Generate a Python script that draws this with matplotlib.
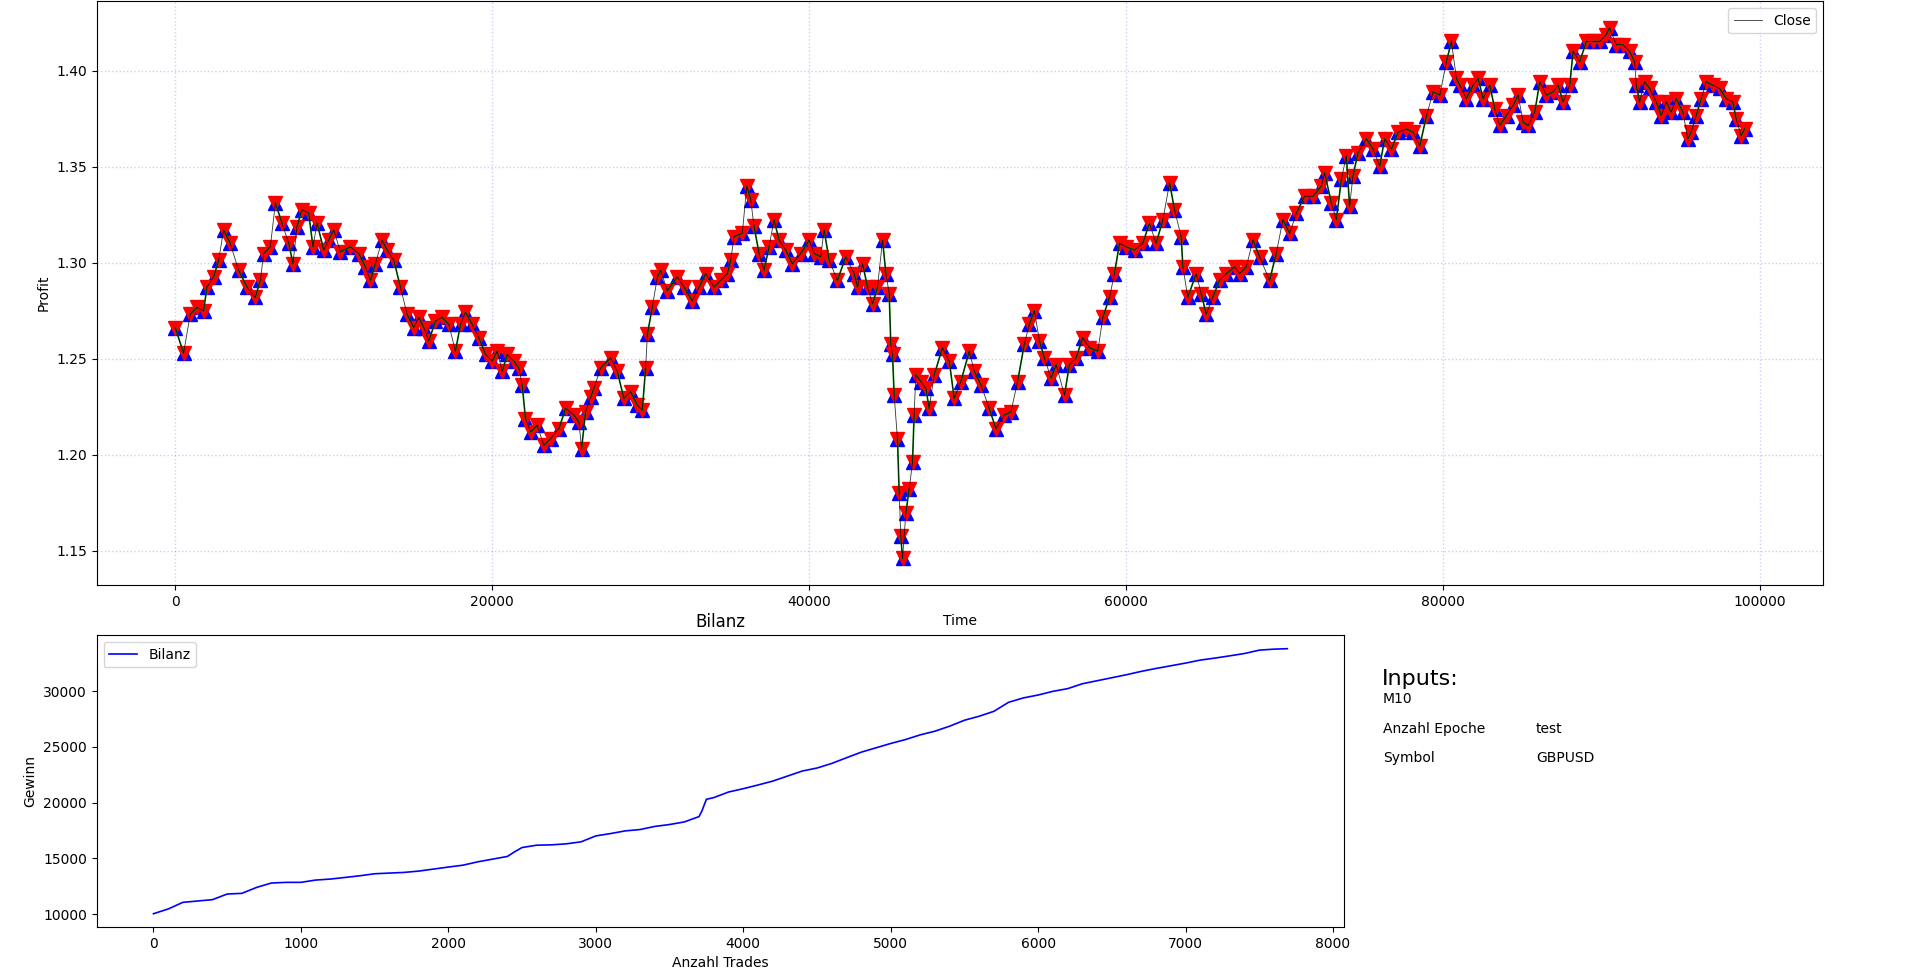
import matplotlib
matplotlib.use("Agg")
import matplotlib.pyplot as plt
import numpy as np

# Close price (time index, price)
close_time = [0, 526, 950, 1370, 1790, 2000, 2420, 2740, 3050, 3470, 4000, 4530, 5050, 5370, 5580,
              6000, 6320, 6740, 7160, 7430, 7680, 8000, 8420, 8690, 8950, 9370, 9680, 10000, 10420,
              11050, 11580, 12000, 12320, 12630, 13050, 13370, 13790, 14210, 14630, 15050, 15370,
              15690, 16000, 16420, 16840, 17260, 17680, 18000, 18310, 18740, 19160, 19580, 20000,
              20320, 20630, 20950, 21370, 21680, 21890, 22100, 22420, 22840, 23260, 23680, 24210,
              24630, 25160, 25470, 25640, 25890, 26210, 26420, 26840, 27470, 27890, 28310, 28730,
              29150, 29470, 29680, 29790, 30100, 30420, 30630, 31050, 31680, 32100, 32630, 33050,
              33470, 34000, 34420, 34840, 35050, 35260, 35780, 36060, 36310, 36520, 36840, 37150,
              37470, 37780, 38100, 38520, 38940, 39470, 40000, 40310, 40730, 40940, 41260, 41780,
              42310, 42840, 43050, 43370, 43680, 44000, 44310, 44630, 44840, 45050, 45150, 45260,
              45360, 45570, 45680, 45780, 45890, 46100, 46310, 46520, 46620, 46730, 47050, 47360,
              47570, 47890, 48410, 48840, 49150, 49570, 50100, 50420, 50840, 51360, 51780, 52310,
              52730, 53150, 53570, 53890, 54210, 54530, 54840, 55260, 55580, 56110, 56420, 56840,
              57260, 57680, 58210, 58530, 58950, 59260, 59580, 60000, 60530, 61050, 61470, 61890,
              62320, 62740, 63050, 63470, 63580, 63890, 64420, 64740, 65050, 65470, 65890, 66320,
              66840, 67160, 67580, 68000, 68420, 69050, 69470, 69890, 70320, 70740, 71260, 71790,
              72320, 72520, 72950, 73260, 73580, 73890, 74100, 74310, 74630, 75160, 75580, 76000,
              76310, 76740, 77160, 77680, 78110, 78530, 78950, 79370, 79790, 80210, 80520, 80840,
              81050, 81470, 81890, 82210, 82520, 82940, 83260, 83570, 84000, 84420, 84730, 85050,
              85360, 85780, 86100, 86520, 86940, 87250, 87570, 87990, 88200, 88620, 89040, 89460,
              89880, 90300, 90500, 90920, 91340, 91770, 92080, 92190, 92400, 92710, 93030, 93450,
              93760, 94080, 94390, 94710, 95130, 95440, 95650, 95970, 96290, 96600, 97020, 97440,
              97860, 98280, 98490, 98810, 99020]
close_value = [1.2663, 1.2530, 1.2733, 1.2768, 1.2750, 1.2874, 1.2926, 1.3014, 1.3172, 1.3102, 1.2961,
               1.2874, 1.2820, 1.2909, 1.3049, 1.3084, 1.3312, 1.3207, 1.3102, 1.2996, 1.3189, 1.3277,
               1.3260, 1.3084, 1.3207, 1.3067, 1.3119, 1.3172, 1.3058, 1.3084, 1.3049, 1.2979, 1.2909,
               1.2996, 1.3119, 1.3067, 1.3014, 1.2874, 1.2733, 1.2663, 1.2716, 1.2663, 1.2593, 1.2698,
               1.2716, 1.2680, 1.2540, 1.2680, 1.2742, 1.2680, 1.2610, 1.2523, 1.2488, 1.2540, 1.2435,
               1.2523, 1.2488, 1.2453, 1.2365, 1.2189, 1.2119, 1.2154, 1.2049, 1.2084, 1.2137, 1.2242,
               1.2207, 1.2172, 1.2032, 1.2224, 1.2300, 1.2347, 1.2453, 1.2505, 1.2435, 1.2294, 1.2330,
               1.2260, 1.2233, 1.2453, 1.2628, 1.2768, 1.2926, 1.2961, 1.2856, 1.2926, 1.2874, 1.2803,
               1.2874, 1.2944, 1.2874, 1.2909, 1.2944, 1.3014, 1.3137, 1.3154, 1.3400, 1.3330, 1.3190,
               1.3049, 1.2961, 1.3084, 1.3225, 1.3119, 1.3067, 1.2996, 1.3049, 1.3119, 1.3049, 1.3032,
               1.3172, 1.3014, 1.2909, 1.3032, 1.2944, 1.2874, 1.2996, 1.2874, 1.2786, 1.2874, 1.3119,
               1.2944, 1.2839, 1.2575, 1.2523, 1.2312, 1.2084, 1.1803, 1.1575, 1.1460, 1.1698, 1.1821,
               1.1961, 1.2207, 1.2417, 1.2382, 1.2347, 1.2242, 1.2417, 1.2558, 1.2488, 1.2294, 1.2382,
               1.2540, 1.2435, 1.2365, 1.2242, 1.2137, 1.2207, 1.2224, 1.2382, 1.2575, 1.2680, 1.2751,
               1.2593, 1.2505, 1.2400, 1.2470, 1.2312, 1.2470, 1.2505, 1.2610, 1.2558, 1.2540, 1.2716,
               1.2821, 1.2944, 1.3102, 1.3084, 1.3067, 1.3102, 1.3207, 1.3102, 1.3225, 1.3418, 1.3277,
               1.3137, 1.2979, 1.2821, 1.2944, 1.2839, 1.2733, 1.2821, 1.2909, 1.2944, 1.2979, 1.2944,
               1.2979, 1.3119, 1.3032, 1.2909, 1.3049, 1.3225, 1.3154, 1.3260, 1.3347, 1.3347, 1.3400,
               1.3470, 1.3312, 1.3225, 1.3435, 1.3558, 1.3295, 1.3453, 1.3575, 1.3646, 1.3593, 1.3505,
               1.3646, 1.3593, 1.3681, 1.3698, 1.3681, 1.3610, 1.3768, 1.3891, 1.3874, 1.4049, 1.4154,
               1.3961, 1.3926, 1.3856, 1.3926, 1.3961, 1.3856, 1.3926, 1.3803, 1.3716, 1.3768, 1.3821,
               1.3874, 1.3733, 1.3716, 1.3786, 1.3944, 1.3874, 1.3891, 1.3926, 1.3839, 1.3926, 1.4102,
               1.4049, 1.4154, 1.4154, 1.4154, 1.4190, 1.4225, 1.4137, 1.4137, 1.4102, 1.4049, 1.3926,
               1.3839, 1.3944, 1.3909, 1.3839, 1.3768, 1.3839, 1.3786, 1.3856, 1.3786, 1.3646, 1.3681,
               1.3768, 1.3856, 1.3944, 1.3926, 1.3909, 1.3856, 1.3839, 1.3751, 1.3663, 1.3698]

# Kontostand nach Anzahl Trades
trades_n = [0, 100, 200, 300, 400, 500, 600, 700, 800, 900, 1000, 1100, 1200, 1300, 1400, 1500, 1600,
            1700, 1800, 1900, 2000, 2100, 2200, 2300, 2400, 2450, 2500, 2600, 2700, 2800, 2900, 3000,
            3100, 3200, 3300, 3400, 3500, 3600, 3700, 3720, 3750, 3800, 3900, 4000, 4100, 4200, 4300,
            4400, 4500, 4600, 4700, 4800, 4900, 5000, 5100, 5200, 5300, 5400, 5500, 5600, 5700, 5800,
            5900, 6000, 6100, 6200, 6300, 6400, 6500, 6600, 6700, 6800, 6900, 7000, 7100, 7200, 7300,
            7400, 7500, 7600, 7690]
balance = [10050, 10476, 11071, 11190, 11310, 11815, 11875, 12410, 12800, 12860, 12860, 13065, 13155,
           13300, 13450, 13630, 13690, 13750, 13870, 14050, 14230, 14400, 14700, 14940, 15180, 15600,
           15980, 16190, 16220, 16310, 16490, 17020, 17230, 17470, 17590, 17870, 18040, 18270, 18750,
           19260, 20300, 20450, 20950, 21250, 21580, 21930, 22380, 22830, 23100, 23510, 24020, 24520,
           24910, 25300, 25650, 26070, 26400, 26850, 27380, 27740, 28180, 28990, 29380, 29640, 29970,
           30210, 30650, 30920, 31190, 31460, 31760, 32020, 32260, 32500, 32770, 32950, 33150, 33360,
           33660, 33750, 33790]

input_names = ["Anzahl Epoche", "Symbol"]
input_values = ["test", "GBPUSD"]
timeframe = "M10"

fig = plt.figure(figsize=(19.2, 9.77), dpi=100)

# --- Kurs mit Trades ---
ax = fig.add_axes([0.0504, 0.4012, 0.8991, 0.5975])
t = np.array(close_time)
c = np.array(close_value)

ax.plot(t, c, '^', color='blue', markersize=10.5, zorder=2)
ax.plot(t, c, 'v', color='red', markersize=10.5, zorder=3)

# trade pairs: entry -> exit
gx, gy = [], []
for i in range(0, len(t) - 1, 2):
    gx += [t[i], t[i + 1], np.nan]
    gy += [c[i], c[i + 1], np.nan]
ax.plot(gx, gy, color='green', linewidth=1.2, zorder=4)
ax.plot(t, c, color='black', linewidth=0.6, alpha=0.8, label='Close', zorder=5)

ax.grid(True, color='blue', linestyle=':', alpha=0.2, linewidth=1)
ax.set_xlabel('Time')
ax.set_ylabel('Profit')
ax.legend(loc='upper right')

# --- Bilanz ---
ax2 = fig.add_axes([0.0504, 0.0512, 0.6496, 0.2984])
ax2.plot(trades_n, balance, color='blue', linewidth=1.2, label='Bilanz')
ax2.set_title('Bilanz')
ax2.set_xlabel('Anzahl Trades')
ax2.set_ylabel('Gewinn')
ax2.legend(loc='upper left')

# --- Inputs ---
fig.text(0.7198, 0.299, 'Inputs:', fontsize=16)
fig.text(0.7203, 0.2805, timeframe, fontsize=10)
rows_y = [0.2497, 0.220]
for name, val, y in zip(input_names, input_values, rows_y):
    fig.text(0.7203, y, name, fontsize=10)
    fig.text(0.8, y, val, fontsize=10)

fig.savefig('out.png', dpi=100)
